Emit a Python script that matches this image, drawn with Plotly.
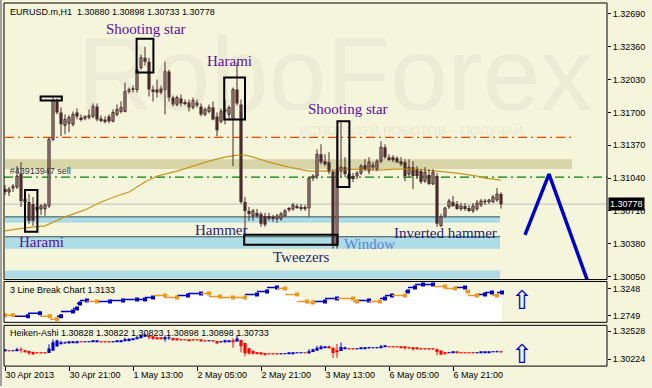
import numpy as np
import plotly.graph_objects as go

# ---------------- data ----------------
tick_idx = [0, 16, 32, 48, 64, 80, 96, 112]
tick_text = ["30 Apr 2013", "30 Apr 21:00", "1 May 13:00", "2 May 05:00",
             "2 May 21:00", "3 May 13:00", "6 May 05:00", "6 May 21:00"]

opens = [1.3093, 1.3090, 1.3094, 1.3095, 1.3108, 1.3083, 1.3080, 1.3078, 1.3075, 1.3073,
         1.3073, 1.3076, 1.3143, 1.3181, 1.3170, 1.3157, 1.3159, 1.3158, 1.3170, 1.3165,
         1.3164, 1.3165, 1.3166, 1.3176, 1.3164, 1.3163, 1.3166, 1.3161, 1.3168, 1.3171,
         1.3171, 1.3191, 1.3193, 1.3193, 1.3215, 1.3225, 1.3221, 1.3193, 1.3193, 1.3194,
         1.3193, 1.3211, 1.3185, 1.3178, 1.3184, 1.3180, 1.3180, 1.3175, 1.3180, 1.3176,
         1.3168, 1.3171, 1.3175, 1.3166, 1.3161, 1.3171, 1.3168, 1.3163, 1.3193, 1.3178,
         1.3080, 1.3071, 1.3066, 1.3069, 1.3068, 1.3066, 1.3066, 1.3065, 1.3063, 1.3063,
         1.3066, 1.3073, 1.3073, 1.3076, 1.3075, 1.3075, 1.3074, 1.3104, 1.3106, 1.3128,
         1.3121, 1.3120, 1.3110, 1.3036, 1.3111, 1.3115, 1.3108, 1.3106, 1.3106, 1.3109,
         1.3117, 1.3111, 1.3115, 1.3113, 1.3121, 1.3135, 1.3125, 1.3125, 1.3124, 1.3121,
         1.3120, 1.3108, 1.3115, 1.3113, 1.3111, 1.3101, 1.3107, 1.3098, 1.3106, 1.3056,
         1.3066, 1.3075, 1.3080, 1.3078, 1.3073, 1.3076, 1.3074, 1.3071, 1.3073, 1.3077,
         1.3080, 1.3080, 1.3080, 1.3082, 1.30880]
highs = [1.3097, 1.3095, 1.3098, 1.3116, 1.3120, 1.3090, 1.3088, 1.3085, 1.3080, 1.3078,
         1.3079, 1.3145, 1.3185, 1.3184, 1.3175, 1.3168, 1.3167, 1.3171, 1.3174, 1.3168,
         1.3167, 1.3173, 1.3179, 1.3179, 1.3167, 1.3166, 1.3168, 1.3173, 1.3178, 1.3181,
         1.3200, 1.3195, 1.3197, 1.3215, 1.3228, 1.3236, 1.3225, 1.3197, 1.3203, 1.3197,
         1.3221, 1.3213, 1.3187, 1.3187, 1.3188, 1.3183, 1.3183, 1.3185, 1.3183, 1.3179,
         1.3175, 1.3178, 1.3181, 1.3170, 1.3174, 1.3183, 1.3177, 1.3195, 1.3220, 1.3183,
         1.3085, 1.3075, 1.3073, 1.3073, 1.3070, 1.3069, 1.3069, 1.3067, 1.3068, 1.3070,
         1.3073, 1.3075, 1.3079, 1.3078, 1.3078, 1.3077, 1.3105, 1.3108, 1.3133, 1.3138,
         1.3128, 1.3130, 1.3113, 1.3148, 1.3160, 1.3125, 1.3111, 1.3109, 1.3111, 1.3118,
         1.3123, 1.3125, 1.3120, 1.3123, 1.3141, 1.3138, 1.3128, 1.3127, 1.3126, 1.3125,
         1.3123, 1.3123, 1.3121, 1.3116, 1.3113, 1.3115, 1.3113, 1.3113, 1.3109, 1.3068,
         1.3075, 1.3083, 1.3086, 1.3081, 1.3079, 1.3079, 1.3077, 1.3079, 1.3082, 1.3083,
         1.3083, 1.3083, 1.3087, 1.3094, 1.30898]
lows = [1.3087, 1.3086, 1.3090, 1.3093, 1.3075, 1.3078, 1.3058, 1.3056, 1.3070, 1.3067,
        1.3066, 1.3074, 1.3141, 1.3168, 1.3146, 1.3148, 1.3150, 1.3156, 1.3163, 1.3161,
        1.3162, 1.3163, 1.3164, 1.3161, 1.3160, 1.3159, 1.3159, 1.3160, 1.3166, 1.3169,
        1.3170, 1.3189, 1.3190, 1.3190, 1.3213, 1.3217, 1.3186, 1.3181, 1.3185, 1.3188,
        1.3168, 1.3181, 1.3176, 1.3176, 1.3176, 1.3177, 1.3171, 1.3173, 1.3175, 1.3166,
        1.3166, 1.3169, 1.3162, 1.3146, 1.3159, 1.3158, 1.3163, 1.3116, 1.3177, 1.3078,
        1.3046, 1.3061, 1.3061, 1.3064, 1.3055, 1.3055, 1.3061, 1.3060, 1.3059, 1.3061,
        1.3065, 1.3070, 1.3071, 1.3073, 1.3071, 1.3071, 1.3065, 1.3101, 1.3103, 1.3118,
        1.3116, 1.3108, 1.3033, 1.3033, 1.3105, 1.3105, 1.3101, 1.3100, 1.3103, 1.3107,
        1.3111, 1.3108, 1.3112, 1.3111, 1.3119, 1.3123, 1.3121, 1.3120, 1.3119, 1.3116,
        1.3101, 1.3105, 1.3093, 1.3103, 1.3098, 1.3099, 1.3097, 1.3097, 1.3055, 1.3055,
        1.3064, 1.3073, 1.3075, 1.3072, 1.3071, 1.3071, 1.3070, 1.3069, 1.3071, 1.3075,
        1.3077, 1.3078, 1.3079, 1.3080, 1.30733]
closes = [1.3090, 1.3093, 1.3096, 1.3106, 1.3081, 1.3080, 1.3061, 1.3061, 1.3072, 1.3076,
          1.3077, 1.3143, 1.3182, 1.3170, 1.3158, 1.3163, 1.3165, 1.3168, 1.3166, 1.3163,
          1.3166, 1.3167, 1.3176, 1.3163, 1.3162, 1.3161, 1.3161, 1.3170, 1.3173, 1.3175,
          1.3191, 1.3193, 1.3194, 1.3213, 1.3225, 1.3221, 1.3193, 1.3191, 1.3190, 1.3190,
          1.3211, 1.3185, 1.3178, 1.3185, 1.3179, 1.3179, 1.3175, 1.3182, 1.3177, 1.3168,
          1.3173, 1.3175, 1.3163, 1.3152, 1.3171, 1.3173, 1.3175, 1.3193, 1.3179, 1.3080,
          1.3071, 1.3068, 1.3071, 1.3066, 1.3058, 1.3057, 1.3063, 1.3063, 1.3066, 1.3068,
          1.3071, 1.3072, 1.3077, 1.3074, 1.3073, 1.3073, 1.3104, 1.3106, 1.3128, 1.3120,
          1.3118, 1.3110, 1.3036, 1.3113, 1.3115, 1.3108, 1.3103, 1.3103, 1.3109, 1.3116,
          1.3113, 1.3120, 1.3117, 1.3121, 1.3135, 1.3125, 1.3123, 1.3122, 1.3120, 1.3118,
          1.3106, 1.3115, 1.3106, 1.3106, 1.3100, 1.3110, 1.3098, 1.3110, 1.3058, 1.3065,
          1.3074, 1.3081, 1.3076, 1.3073, 1.3076, 1.3073, 1.3071, 1.3076, 1.3079, 1.3081,
          1.3081, 1.3082, 1.3085, 1.3088, 1.30778]

# moving average
ma_idx = [0, 5, 10, 15, 20, 24, 28, 31, 35, 38, 43, 47, 51, 55, 58, 60, 62, 66, 71,
          76, 82, 86, 93, 98, 103, 108, 113, 118, 120, 124]
ma_val = [1.3051, 1.3054, 1.3056, 1.3065, 1.3072, 1.3080, 1.3086, 1.3090, 1.3100, 1.3106,
          1.3111, 1.3116, 1.3121, 1.3125, 1.3127, 1.3127, 1.3125, 1.3120, 1.3115,
          1.3111, 1.3111, 1.3113, 1.3112, 1.3113, 1.3113, 1.3111, 1.3109, 1.3106, 1.3104, 1.3102]

# 3 Line Break panel
lb_idx = [0, 2, 5.75, 8.75, 11.25, 13, 14, 17, 18, 18.75, 20.5, 23, 26.25, 29.5, 33, 35, 37,
          40, 43, 45.75, 49, 51, 53.75, 57, 60, 63, 65.5, 68, 70, 73, 75.5, 77, 80, 83, 87,
          88, 91, 93.75, 95, 96.75, 100, 100.75, 102.5, 104.5, 107, 110, 112.5, 115, 115.75,
          118, 120, 121.75, 123, 124.25]
lb_val = [1.2749, 1.2749, 1.2731, 1.2786, 1.2731, 1.2675, 1.2731, 1.2823, 1.2878, 1.2971,
          1.3026, 1.3008, 1.3008, 1.3026, 1.3045, 1.3045, 1.3082, 1.3119, 1.3082, 1.3119,
          1.3156, 1.3156, 1.3100, 1.3082, 1.3082, 1.3137, 1.3193, 1.3266, 1.3248, 1.3137,
          1.3008, 1.2989, 1.3008, 1.3063, 1.3063, 1.3008, 1.3026, 1.3008, 1.3063, 1.3119,
          1.3119, 1.3193, 1.3266, 1.3322, 1.3322, 1.3285, 1.3248, 1.3266, 1.3193, 1.3119,
          1.3137, 1.3174, 1.3119, 1.3174]
lb_up = [0, 0, 1, 1, 0, 0, 1, 1, 1, 1, 1, 0, 1, 1, 1, 1, 1, 0, 0, 1, 1, 0, 0, 0, 0, 1, 1, 1,
         0, 0, 0, 0, 1, 1, 0, 0, 1, 0, 1, 1, 0, 1, 1, 1, 1, 0, 0, 1, 0, 0, 1, 1, 0, 1]

# horizontal levels and zones (prices)
level_orange = 1.3145
level_green = 1.3105
last_price = 1.30778
zone_khaki = (1.3113, 1.3123)
zones_blue = [(1.3059, 1.3065), (1.3033, 1.3045), (1.3003, 1.3011)]
zone_blue_edges = [1.3065, 1.3045]

# pattern boxes: (idx0, idx1, price_low, price_high)
pattern_boxes = [(32.9, 37.1, 1.3210, 1.3244), (54.8, 60.0, 1.3163, 1.3205),
                 (5.0, 8.1, 1.3050, 1.3092), (8.9, 14.2, 1.3182, 1.3186),
                 (83.1, 86.1, 1.3095, 1.3161), (59.8, 83.1, 1.3037, 1.3047)]

# forecast zigzag
zig_idx = [130, 136, 146.5]
zig_val = [1.3047, 1.3108, 1.2991]

main_ticks = [1.32690, 1.32360, 1.32030, 1.31700, 1.31370, 1.31040, 1.30710, 1.30380, 1.30050]
lb_ticks = [1.3248, 1.2749]
ha_ticks = [1.32528, 1.30224]

# ---------------- styling ----------------
BG = "#F5F5DC"
CANDLE = "#4B2B2B"
W, H = 652, 388
FONT = "Liberation Sans"
SERIF = "Liberation Serif"


def px(x):
    return x / W


def py(y):
    return 1 - y / H


n = len(opens)
idx = np.arange(n)
o = np.array(opens); hh = np.array(highs); ll = np.array(lows); c = np.array(closes)

fig = go.Figure()

# watermark (below everything)
fig.add_trace(go.Scatter(x=[82.5], y=[1.3199], mode="text", text=["RoboForex"],
                         textfont=dict(family=FONT, size=104, color="rgba(195,200,170,0.18)"),
                         hoverinfo="skip", xaxis="x", yaxis="y"))
fig.add_trace(go.Scatter(x=[73.5], y=[1.3151], mode="text", text=["ИСПОЛЬЗУЙ РОБОТОВ – ПОЛУЧАЙ"],
                         textposition="middle right",
                         textfont=dict(family=FONT, size=13, color="rgba(190,195,165,0.25)"),
                         hoverinfo="skip", xaxis="x", yaxis="y"))

# order label
fig.add_trace(go.Scatter(x=[1.2], y=[1.31105], mode="text", text=["#43913947 sell"],
                         textposition="middle right",
                         textfont=dict(family=FONT, size=9, color="#303030"),
                         hoverinfo="skip", xaxis="x", yaxis="y"))

# moving average
fig.add_trace(go.Scatter(x=ma_idx, y=ma_val, mode="lines",
                         line=dict(color="#C8961E", width=1.2), xaxis="x", yaxis="y"))

# candle wicks
wx, wy = [], []
for i in range(n):
    wx += [i, i, None]
    wy += [ll[i], hh[i], None]
fig.add_trace(go.Scatter(x=wx, y=wy, mode="lines", line=dict(color=CANDLE, width=1),
                         xaxis="x", yaxis="y", hoverinfo="skip"))

MINH = 0.00004
bear = c < o
bull = ~bear
fig.add_trace(go.Bar(x=idx[bear], base=c[bear], y=np.maximum(o[bear] - c[bear], MINH),
                     width=0.8, marker=dict(color=CANDLE, line=dict(width=0)),
                     xaxis="x", yaxis="y"))
fig.add_trace(go.Bar(x=idx[bull], base=o[bull], y=np.maximum(c[bull] - o[bull], MINH),
                     width=0.55, marker=dict(color=BG, line=dict(color=CANDLE, width=1)),
                     xaxis="x", yaxis="y"))

# zigzag
fig.add_trace(go.Scatter(x=zig_idx, y=zig_val, mode="lines",
                         line=dict(color="#0000CD", width=3.5), xaxis="x", yaxis="y"))

# ---- 3 line break panel ----
fig.add_trace(go.Scatter(x=lb_idx, y=lb_val, mode="lines", fill="tozeroy",
                         fillcolor="white", line=dict(width=0, color="white"),
                         xaxis="x", yaxis="y2", hoverinfo="skip"))
for up_flag, col in [(1, "#0000CD"), (0, "#F0961E")]:
    sx, sy = [], []
    for k in range(1, len(lb_idx)):
        if lb_up[k] == up_flag:
            sx += [lb_idx[k - 1], lb_idx[k], None]
            sy += [lb_val[k], lb_val[k], None]
    fig.add_trace(go.Scatter(x=sx, y=sy, mode="lines", line=dict(color=col, width=1.5),
                             xaxis="x", yaxis="y2", hoverinfo="skip"))
    mx = [lb_idx[k] for k in range(len(lb_idx)) if lb_up[k] == up_flag]
    my = [lb_val[k] for k in range(len(lb_idx)) if lb_up[k] == up_flag]
    fig.add_trace(go.Scatter(x=mx, y=my, mode="markers",
                             marker=dict(symbol="square", size=4, color=col, line=dict(width=0)),
                             xaxis="x", yaxis="y2", hoverinfo="skip"))

# ---- Heiken-Ashi panel (derived from the candles above) ----
ha_c = (o + hh + ll + c) / 4
ha_o = np.empty(n)
ha_o[0] = (o[0] + c[0]) / 2
for k in range(1, n):
    ha_o[k] = (ha_o[k - 1] + ha_c[k - 1]) / 2
ha_h = np.maximum.reduce([hh, ha_o, ha_c])
ha_l = np.minimum.reduce([ll, ha_o, ha_c])
ha_up = ha_c >= ha_o
for flag, col in [(True, "#0000CD"), (False, "#FF0000")]:
    sel = np.where(ha_up == flag)[0]
    hx, hy = [], []
    for k in sel:
        hx += [k, k, None]
        hy += [ha_l[k], ha_h[k], None]
    fig.add_trace(go.Scatter(x=hx, y=hy, mode="lines", line=dict(color=col, width=1),
                             xaxis="x", yaxis="y3", hoverinfo="skip"))
    fig.add_trace(go.Bar(x=sel, base=np.minimum(ha_o[sel], ha_c[sel]),
                         y=np.maximum(np.abs(ha_c[sel] - ha_o[sel]), 0.0004),
                         width=0.8, marker=dict(color=col, line=dict(width=0)),
                         xaxis="x", yaxis="y3"))

# ---------------- shapes ----------------
shapes = []
X0, X1 = -0.25, 150.5
shapes.append(dict(type="rect", xref="x", yref="y", x0=0, x1=141.75, y0=zone_khaki[0],
                   y1=zone_khaki[1], fillcolor="#D8D5A9", line=dict(width=0), layer="below"))
for z in zones_blue:
    shapes.append(dict(type="rect", xref="x", yref="y", x0=0, x1=123.75, y0=z[0], y1=z[1],
                       fillcolor="#ADDCE6", line=dict(width=0), layer="below"))
for e in zone_blue_edges:
    shapes.append(dict(type="line", xref="x", yref="y", x0=0, x1=123.75, y0=e, y1=e,
                       line=dict(color="#2F4F4F", width=1), layer="below"))
shapes.append(dict(type="line", xref="x", yref="y", x0=0, x1=141.75, y0=level_orange,
                   y1=level_orange, line=dict(color="#FF4500", width=1.2,
                                              dash="9px,4px,2px,4px"), layer="below"))
shapes.append(dict(type="line", xref="x", yref="y", x0=X0, x1=X1, y0=level_green,
                   y1=level_green, line=dict(color="#008000", width=1.2,
                                             dash="9px,4px,2px,4px"), layer="below"))
shapes.append(dict(type="line", xref="x", yref="y", x0=X0, x1=X1, y0=last_price,
                   y1=last_price, line=dict(color="#C0C0C0", width=1), layer="below"))
for b in pattern_boxes:
    shapes.append(dict(type="rect", xref="x", yref="y", x0=b[0], x1=b[1], y0=b[2], y1=b[3],
                       line=dict(color="black", width=2), fillcolor="rgba(0,0,0,0)"))
# panel frames
for top, bot in [(3, 281), (283, 324), (327, 368)]:
    shapes.append(dict(type="rect", xref="paper", yref="paper", x0=px(4), x1=px(607),
                       y0=py(bot), y1=py(top), line=dict(color="black", width=1)))
shapes.append(dict(type="rect", xref="paper", yref="paper", x0=0, x1=px(2), y0=0, y1=1,
                   fillcolor="#A0A0A0", line=dict(width=0)))

# ---------------- annotations ----------------
ann = []


def label(text, x, y, color, size=15, family=SERIF, anchor="center"):
    ann.append(dict(text=text, xref="paper", yref="paper", x=px(x), y=py(y),
                    xanchor=anchor, yanchor="middle", showarrow=False,
                    font=dict(family=family, size=size, color=color)))


PURPLE = "#5B0FA0"
NAVY = "#1E1E78"
label("Shooting star", 145.5, 29, PURPLE)
label("Harami", 229.5, 61, PURPLE)
label("Harami", 41, 243, PURPLE)
label("Shooting star", 348, 110, PURPLE)
label("Hammer", 221, 231, NAVY)
label("Tweezers", 301, 258, NAVY)
label("Window", 369.5, 245, "#5A82DC")
label("Inverted hammer", 445.5, 234, NAVY)

label("EURUSD.m,H1\u00a0\u00a01.30880 1.30898 1.30733 1.30778", 8, 12, "black", 9, FONT, "left")
label("3 Line Break Chart 1.3133", 8, 292, "black", 9, FONT, "left")
label("Heiken-Ashi 1.30828 1.30822 1.30823 1.30898 1.30898 1.30733", 8, 335, "black", 9, FONT, "left")
label("\u21e7", 522, 302, "#0000CD", 26, "DejaVu Sans")
label("\u21e7", 522, 356, "#0000CD", 26, "DejaVu Sans")

ann.append(dict(text="1.30778", xref="paper", yref="y", x=px(608), y=last_price,
                xanchor="left", yanchor="middle", showarrow=False, bgcolor="black",
                borderpad=1, font=dict(family=FONT, size=9, color="white")))

axfont = dict(family=FONT, size=9, color="black")
yax_common = dict(side="right", anchor="x", showgrid=False, zeroline=False, ticks="outside",
                  ticklen=3, tickcolor="black", tickfont=axfont, fixedrange=True)

fig.update_layout(
    width=W, height=H, margin=dict(l=0, r=0, t=0, b=0),
    paper_bgcolor=BG, plot_bgcolor=BG, showlegend=False, barmode="overlay",
    shapes=shapes, annotations=ann,
    xaxis=dict(domain=[px(4), px(607)], range=[X0, X1], anchor="y3",
               tickvals=tick_idx, ticktext=tick_text, ticks="outside", ticklen=4,
               tickcolor="black", showgrid=False, zeroline=False, showline=False,
               ticklabelposition="outside right", tickfont=axfont, fixedrange=True),
    yaxis=dict(domain=[py(281), py(3)], range=[1.3002, 1.3280],
               tickvals=main_ticks, ticktext=[f"{v:.5f}" for v in main_ticks], **yax_common),
    yaxis2=dict(domain=[py(324), py(283)], range=[1.26196, 1.33774],
                tickvals=lb_ticks, ticktext=[f"{v:.4f}" for v in lb_ticks], **yax_common),
    yaxis3=dict(domain=[py(368), py(327)], range=[1.29648, 1.33022],
                tickvals=ha_ticks, ticktext=[f"{v:.5f}" for v in ha_ticks], **yax_common),
)

fig.write_html("out.html", config={"displayModeBar": False},
               post_script="document.body.style.margin='0px';document.body.style.overflow='hidden';")
